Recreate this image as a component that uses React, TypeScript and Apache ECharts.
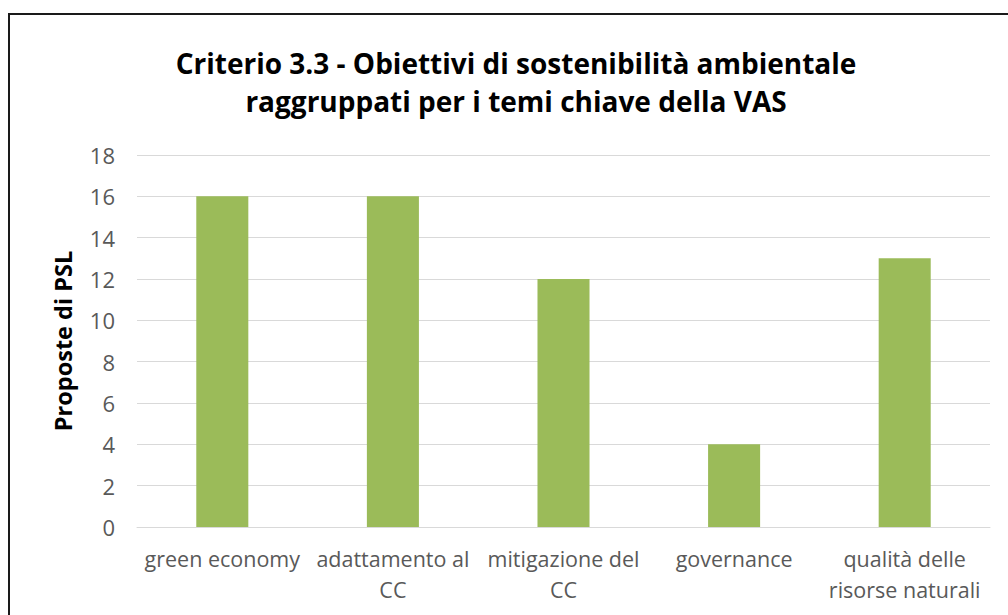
import React, { useEffect, useRef } from "react";
import * as echarts from "echarts";

const categories = ["green economy", "adattamento al\nCC", "mitigazione del\nCC", "governance", "qualità delle\nrisorse naturali"];
const values = [16, 16, 12, 4, 13];
const titleText = "Criterio 3.3 - Obiettivi di sostenibilità ambientale\nraggruppati per i temi chiave della VAS";
const yAxisName = "Proposte di PSL";

export default function App() {
  const ref = useRef<HTMLDivElement>(null);
  useEffect(() => {
    const chart = echarts.init(ref.current!, null, { renderer: "svg" });
    chart.setOption({
      animation: false,
      backgroundColor: "#ffffff",
      title: {
        text: titleText,
        left: 511,
        top: 39,
        textAlign: "center",
        textStyle: {
          fontFamily: "Open Sans",
          fontSize: 28,
          fontWeight: "bold",
          color: "#000000",
          lineHeight: 38,
        },
      },
      graphic: [
        {
          type: "rect",
          shape: { x: 9, y: 14, width: 1100, height: 700 },
          style: { fill: "none", stroke: "#1a1a1a", lineWidth: 2 },
          silent: true,
        },
      ],
      grid: { left: 137, right: 18, top: 155, bottom: 88, containLabel: false },
      xAxis: {
        type: "category",
        data: categories,
        axisLine: { show: true, lineStyle: { color: "#d9d9d9", width: 1 } },
        axisTick: { show: false },
        axisLabel: {
          color: "#595959",
          fontFamily: "Open Sans",
          fontSize: 21.5,
          lineHeight: 31,
          margin: 16,
          interval: 0,
        },
      },
      yAxis: {
        type: "value",
        min: 0,
        max: 18,
        interval: 2,
        name: yAxisName,
        nameLocation: "middle",
        nameGap: 62,
        nameTextStyle: {
          fontFamily: "Open Sans",
          fontSize: 23.5,
          fontWeight: "bold",
          color: "#000000",
        },
        axisLine: { show: false },
        axisTick: { show: false },
        splitLine: { lineStyle: { color: "#d9d9d9", width: 1 } },
        axisLabel: {
          color: "#595959",
          fontFamily: "Open Sans",
          fontSize: 22,
          margin: 22,
        },
      },
      series: [
        {
          type: "bar",
          data: values,
          barWidth: "30.5%",
          itemStyle: { color: "#9bbb59" },
        },
      ],
    });
    return () => chart.dispose();
  }, []);
  return (
    <div
      ref={ref}
      style={{ position: "fixed", left: 0, top: 0, width: 1008, height: 615 }}
    />
  );
}
